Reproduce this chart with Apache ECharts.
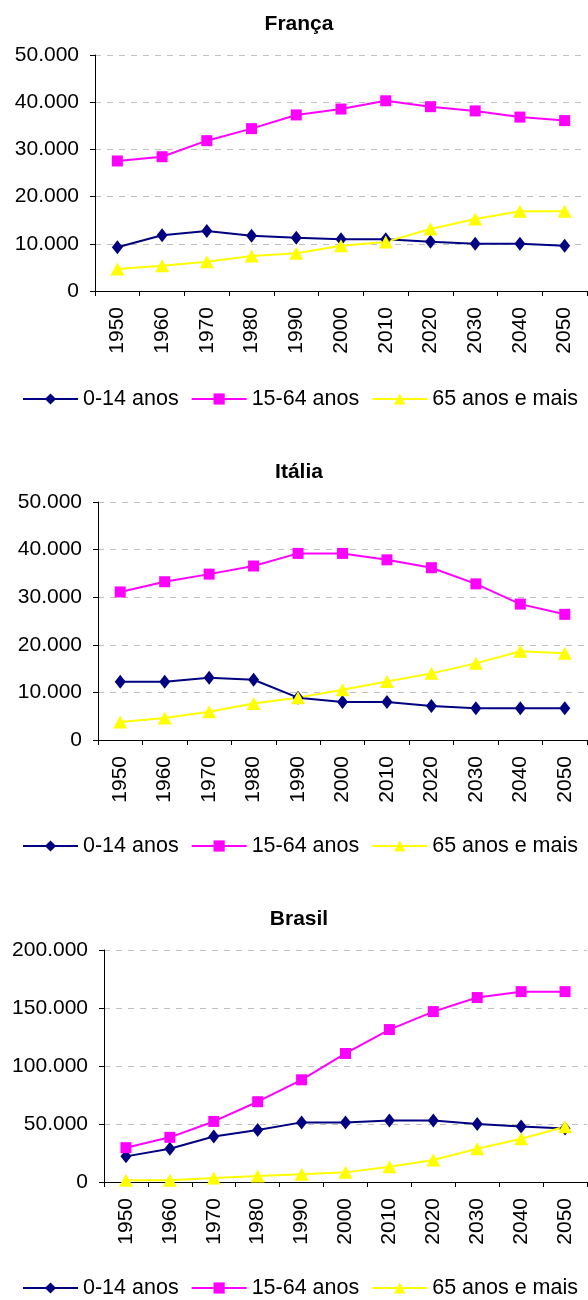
<!DOCTYPE html>
<html>
<head>
<meta charset="utf-8">
<title>População por faixa etária</title>
<script src="https://cdn.jsdelivr.net/npm/echarts@6/dist/echarts.min.js"></script>
<style>
  html, body { margin: 0; padding: 0; background: #fff; }
  #main { width: 588px; height: 1300px; }
</style>
</head>
<body>
<div id="main"></div>
<script>
var anos = ['1950', '1960', '1970', '1980', '1990', '2000', '2010', '2020', '2030', '2040', '2050'];
var faixas = ['0-14 anos', '15-64 anos', '65 anos e mais'];

// França (milhares)
var franca0_14 = [9250, 11800, 12700, 11700, 11300, 10950, 10950, 10450, 10000, 10000, 9600];
var franca15_64 = [27550, 28450, 31850, 34400, 37300, 38550, 40300, 39050, 38150, 36850, 36100];
var franca65 = [4650, 5350, 6200, 7400, 8000, 9600, 10400, 13150, 15250, 16900, 16900];

// Itália
var italia0_14 = [12250, 12250, 13100, 12650, 8900, 8000, 8000, 7150, 6650, 6650, 6650];
var italia15_64 = [31100, 33250, 34850, 36550, 39200, 39200, 37850, 36200, 32800, 28550, 26400];
var italia65 = [3800, 4600, 5950, 7650, 8900, 10550, 12300, 14000, 16100, 18650, 18200];

// Brasil
var brasil0_14 = [22100, 28700, 39300, 44800, 51400, 51400, 53100, 53100, 49900, 47900, 46200];
var brasil15_64 = [29600, 38500, 52200, 69200, 88100, 110800, 131400, 146900, 159000, 164100, 164100];
var brasil65 = [1500, 1500, 3400, 5200, 6600, 8300, 13200, 18900, 28700, 37300, 47600];

var cores = ['#000080', '#FF00FF', '#FFFF00'];
var simbolos = ['diamond', 'rect', 'triangle'];
var tamanhos = [[11, 14], 11, [14, 13]];
var fonte = "'Liberation Sans', Arial, sans-serif";

function milhar(v) {
    return String(v).replace(/\B(?=(\d{3})+(?!\d))/g, '.');
}

var paineis = [
    { nome: 'França', dados: [franca0_14, franca15_64, franca65], max: 50000, passo: 10000, left: 95, top: 55, height: 236, titulo: 14, legenda: 388 },
    { nome: 'Itália', dados: [italia0_14, italia15_64, italia65], max: 50000, passo: 10000, left: 98, top: 502, height: 238, titulo: 462, legenda: 835 },
    { nome: 'Brasil', dados: [brasil0_14, brasil15_64, brasil65], max: 200000, passo: 50000, left: 104, top: 950, height: 232, titulo: 909, legenda: 1277 }
];

var option = {
    animation: false,
    backgroundColor: '#fff',
    textStyle: { fontFamily: fonte },
    title: [],
    legend: [],
    grid: [],
    xAxis: [],
    yAxis: [],
    series: []
};

paineis.forEach(function (p, i) {
    option.title.push({
        text: p.nome,
        left: 299,
        textAlign: 'center',
        top: p.titulo,
        padding: 0,
        textStyle: { fontFamily: fonte, fontSize: 21, fontWeight: 'bold', color: '#000' }
    });
    option.legend.push({
        data: faixas,
        left: 22,
        top: p.legenda,
        padding: 0,
        itemWidth: 55,
        itemHeight: 14,
        itemGap: 12,
        textStyle: { fontFamily: fonte, fontSize: 21.5, color: '#000' }
    });
    option.grid.push({ left: p.left, right: 1, top: p.top, height: p.height });
    option.xAxis.push({
        type: 'category',
        gridIndex: i,
        data: anos,
        boundaryGap: true,
        axisLine: { lineStyle: { color: '#000', width: 1 } },
        axisTick: { show: true, length: 5, lineStyle: { color: '#000' } },
        axisLabel: { rotate: 90, margin: 16, fontFamily: fonte, fontSize: 21, color: '#000' }
    });
    option.yAxis.push({
        type: 'value',
        gridIndex: i,
        min: 0,
        max: p.max,
        interval: p.passo,
        axisLine: { show: true, lineStyle: { color: '#000', width: 1 } },
        axisTick: { show: true, length: 5, lineStyle: { color: '#000' } },
        axisLabel: { margin: 16, fontFamily: fonte, fontSize: 21, color: '#000', formatter: milhar },
        splitLine: { show: true, lineStyle: { color: '#c0c0c0', type: [6, 6], width: 1 } }
    });
    p.dados.forEach(function (serie, k) {
        option.series.push({
            name: faixas[k],
            type: 'line',
            xAxisIndex: i,
            yAxisIndex: i,
            data: serie,
            symbol: simbolos[k],
            symbolSize: tamanhos[k],
            color: cores[k],
            lineStyle: { color: cores[k], width: 2 },
            itemStyle: { color: cores[k] }
        });
    });
});

var myChart = echarts.init(document.getElementById('main'));
myChart.setOption(option);
</script>
</body>
</html>
